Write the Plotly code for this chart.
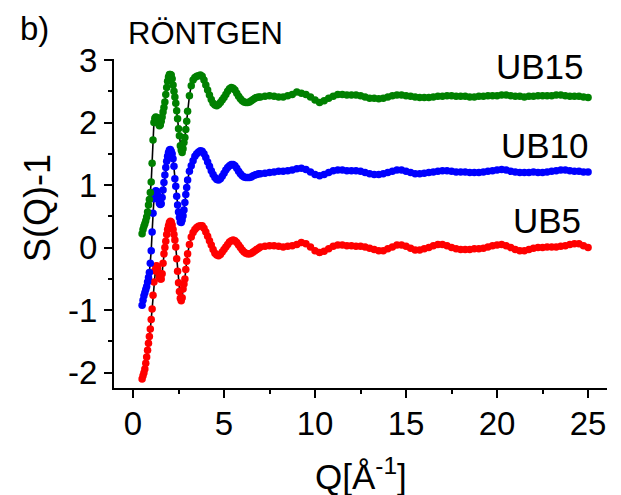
import numpy as np
import plotly.graph_objects as go

# Q grid of the measured points (Å^-1): fine step at low Q, coarser further out
q_low = np.round(np.arange(0.50, 3.0001, 0.05), 2)
q_mid = np.round(np.arange(3.10, 7.0001, 0.10), 2)
q_high = np.round(np.arange(7.25, 25.0001, 0.25), 2)
q = np.concatenate([q_low, q_mid, q_high])

# S(Q)-1 for each sample (vertically offset curves)
ub5_low = [-2.10, -2.05, -2.00, -1.94, -1.85, -1.75, -1.64, -1.53, -1.42, -1.30,
           -1.15, -0.98, -0.76, -0.55, -0.37, -0.30, -0.29, -0.33, -0.40, -0.47,
           -0.50, -0.50, -0.42, -0.25, -0.10, 0.00, 0.10, 0.21, 0.29, 0.35,
           0.40, 0.42, 0.41, 0.36, 0.29, 0.21, 0.12, 0.01, -0.18, -0.38,
           -0.56, -0.70, -0.81, -0.85, -0.80, -0.66, -0.58, -0.50, -0.35, -0.22,
           -0.10]
ub5_mid = [0.05, 0.17, 0.24, 0.29, 0.32, 0.34, 0.35, 0.35, 0.31, 0.25,
           0.18, 0.11, 0.04, -0.03, -0.09, -0.12, -0.13, -0.11, -0.07, -0.03,
           0.01, 0.05, 0.09, 0.11, 0.12, 0.11, 0.08, 0.04, 0.00, -0.04,
           -0.07, -0.09, -0.10, -0.10, -0.09, -0.07, -0.05, -0.03, -0.01, 0.01]
ub5_high = [0.02, 0.03, 0.03, 0.02, 0.01, 0.02, 0.03, 0.05,
            0.08, 0.06, 0.01, -0.05, -0.08, -0.06, -0.02, 0.02,
            0.04, 0.04, 0.03, 0.03, 0.02, 0.02, 0.01, -0.01,
            -0.03, -0.05, -0.05, -0.02, 0.01, 0.04, 0.04, 0.02,
            -0.01, -0.04, -0.04, -0.02, 0.00, 0.03, 0.05, 0.05,
            0.03, 0.00, -0.02, -0.03, -0.03, -0.03, -0.02, -0.02,
            -0.01, 0.01, 0.03, 0.04, 0.05, 0.03, 0.00, -0.03,
            -0.05, -0.05, -0.03, -0.01, 0.00, 0.00, 0.01, 0.01,
            0.01, 0.02, 0.03, 0.05, 0.06, 0.06, 0.03, 0.00]

ub10_low = [-0.92, -0.84, -0.77, -0.72, -0.67, -0.62, -0.55, -0.48, -0.40, -0.25,
            -0.05, 0.25, 0.55, 0.78, 0.88, 0.91, 0.90, 0.84, 0.77, 0.71,
            0.69, 0.70, 0.80, 0.92, 1.04, 1.16, 1.28, 1.38, 1.46, 1.52,
            1.56, 1.57, 1.54, 1.50, 1.42, 1.30, 1.10, 0.98, 0.82, 0.68,
            0.57, 0.48, 0.41, 0.40, 0.44, 0.51, 0.60, 0.72, 0.85, 0.96,
            1.08]
ub10_mid = [1.22, 1.31, 1.39, 1.46, 1.50, 1.53, 1.55, 1.54, 1.50, 1.44,
            1.37, 1.30, 1.23, 1.17, 1.12, 1.09, 1.08, 1.10, 1.14, 1.19,
            1.24, 1.28, 1.31, 1.33, 1.33, 1.31, 1.27, 1.22, 1.18, 1.15,
            1.13, 1.12, 1.12, 1.12, 1.13, 1.15, 1.16, 1.17, 1.18, 1.18]
ub10_high = [1.19, 1.20, 1.21, 1.22, 1.22, 1.23, 1.24, 1.26,
             1.27, 1.25, 1.21, 1.17, 1.15, 1.17, 1.20, 1.23,
             1.24, 1.24, 1.23, 1.23, 1.23, 1.22, 1.20, 1.18,
             1.17, 1.17, 1.18, 1.20, 1.22, 1.24, 1.24, 1.22,
             1.20, 1.18, 1.18, 1.19, 1.20, 1.21, 1.22, 1.23,
             1.23, 1.22, 1.21, 1.21, 1.21, 1.20, 1.20, 1.20,
             1.21, 1.22, 1.23, 1.24, 1.25, 1.24, 1.22, 1.21,
             1.20, 1.20, 1.20, 1.21, 1.20, 1.20, 1.21, 1.22,
             1.23, 1.24, 1.24, 1.23, 1.22, 1.22, 1.21, 1.21]

ub15_low = [0.22, 0.29, 0.34, 0.38, 0.43, 0.49, 0.57, 0.68, 0.77, 0.88,
            1.05, 1.35, 1.72, 2.00, 2.07, 2.09, 2.08, 2.03, 1.98, 1.95,
            1.96, 2.02, 2.09, 2.17, 2.24, 2.33, 2.45, 2.56, 2.66, 2.73,
            2.77, 2.77, 2.76, 2.70, 2.60, 2.50, 2.41, 2.31, 2.19, 2.06,
            1.90, 1.79, 1.63, 1.56, 1.52, 1.58, 1.68, 1.76, 1.89, 2.02,
            2.18]
ub15_mid = [2.43, 2.59, 2.68, 2.72, 2.74, 2.75, 2.76, 2.74, 2.68, 2.60,
            2.52, 2.44, 2.37, 2.31, 2.28, 2.27, 2.29, 2.32, 2.36, 2.40,
            2.45, 2.50, 2.54, 2.56, 2.55, 2.52, 2.47, 2.42, 2.38, 2.35,
            2.33, 2.32, 2.32, 2.33, 2.35, 2.37, 2.39, 2.40, 2.41, 2.41]
ub15_high = [2.42, 2.43, 2.42, 2.41, 2.41, 2.43, 2.45, 2.49,
             2.47, 2.45, 2.41, 2.36, 2.32, 2.35, 2.39, 2.42,
             2.45, 2.45, 2.44, 2.44, 2.44, 2.43, 2.41, 2.39,
             2.39, 2.38, 2.39, 2.41, 2.43, 2.44, 2.44, 2.43,
             2.42, 2.41, 2.40, 2.40, 2.40, 2.41, 2.42, 2.42,
             2.43, 2.43, 2.42, 2.42, 2.42, 2.41, 2.41, 2.42,
             2.42, 2.43, 2.43, 2.43, 2.44, 2.44, 2.43, 2.42,
             2.42, 2.41, 2.42, 2.42, 2.43, 2.43, 2.43, 2.43,
             2.44, 2.44, 2.43, 2.42, 2.42, 2.42, 2.41, 2.40]

series = [
    ("UB5", ub5_low + ub5_mid + ub5_high, "#ff0000", 22.75, 0.44),
    ("UB10", ub10_low + ub10_mid + ub10_high, "#0000ff", 22.64, 1.64),
    ("UB15", ub15_low + ub15_mid + ub15_high, "#008000", 22.36, 2.90),
]

x_tickvals = [0, 5, 10, 15, 20, 25]
x_minor = [2.5, 7.5, 12.5, 17.5, 22.5]
y_tickvals = [-2, -1, 0, 1, 2, 3]
y_ticktext = ["-2", "-1", "0", "1", "2", "3"]
y_minor = [-1.5, -0.5, 0.5, 1.5, 2.5]

FONT = "Liberation Sans, Arial, sans-serif"

# plot area in pixels: left 114, right 607, top 59, bottom 388
L, R, T, B = 114, 607, 59, 388


def px_to_paper(px, py):
    return (px - L) / (R - L), (B - py) / (B - T)


fig = go.Figure()
for name, vals, color, lx, ly in series:
    fig.add_trace(go.Scatter(
        x=q, y=vals, name=name, mode="lines+markers",
        line=dict(color="black", width=1.6),
        marker=dict(color=color, size=7.5, line=dict(width=0)),
        showlegend=False,
    ))
    fig.add_annotation(x=lx, y=ly, xref="x", yref="y", text=name, showarrow=False,
                       font=dict(family=FONT, size=35, color="black"),
                       xanchor="center", yanchor="middle")

# axis titles and panel captions
px, py = px_to_paper(37, 208)
fig.add_annotation(x=px, y=py, xref="paper", yref="paper", text="S(Q)-1",
                   textangle=-90, showarrow=False, xanchor="center", yanchor="middle",
                   font=dict(family=FONT, size=36, color="black"))
px, py = px_to_paper(361, 474)
fig.add_annotation(x=px, y=py, xref="paper", yref="paper",
                   text="Q[Å<sup>-1</sup>]", showarrow=False,
                   xanchor="center", yanchor="middle",
                   font=dict(family=FONT, size=35, color="black"))
px, py = px_to_paper(34, 29)
fig.add_annotation(x=px, y=py, xref="paper", yref="paper", text="b)",
                   showarrow=False, xanchor="center", yanchor="middle",
                   font=dict(family=FONT, size=33, color="black"))
px, py = px_to_paper(205, 33)
fig.add_annotation(x=px, y=py, xref="paper", yref="paper", text="RÖNTGEN",
                   showarrow=False, xanchor="center", yanchor="middle",
                   font=dict(family=FONT, size=31, color="black"))

axis_common = dict(
    showline=True, linecolor="black", linewidth=2, mirror=False,
    showgrid=False, zeroline=False,
    ticks="outside", ticklen=8, tickwidth=2, tickcolor="black",
    tickfont=dict(family=FONT, size=33, color="black"),
)
fig.update_xaxes(range=[-1.044, 26.04], tickmode="array", tickvals=x_tickvals,
                 ticklabelstandoff=-3,
                 minor=dict(tickvals=x_minor, ticks="outside", ticklen=4,
                            tickwidth=2, tickcolor="black"),
                 **axis_common)
fig.update_yaxes(range=[-2.245, 3.016], tickmode="array", tickvals=y_tickvals,
                 ticktext=y_ticktext,
                 minor=dict(tickvals=y_minor, ticks="outside", ticklen=4,
                            tickwidth=2, tickcolor="black"),
                 **axis_common)

fig.update_layout(
    width=621, height=495, autosize=False,
    margin=dict(l=L, r=621 - R, t=T, b=495 - B, pad=0),
    plot_bgcolor="white", paper_bgcolor="white",
    font=dict(family=FONT, color="black"),
)

fig.write_html("out.html")
